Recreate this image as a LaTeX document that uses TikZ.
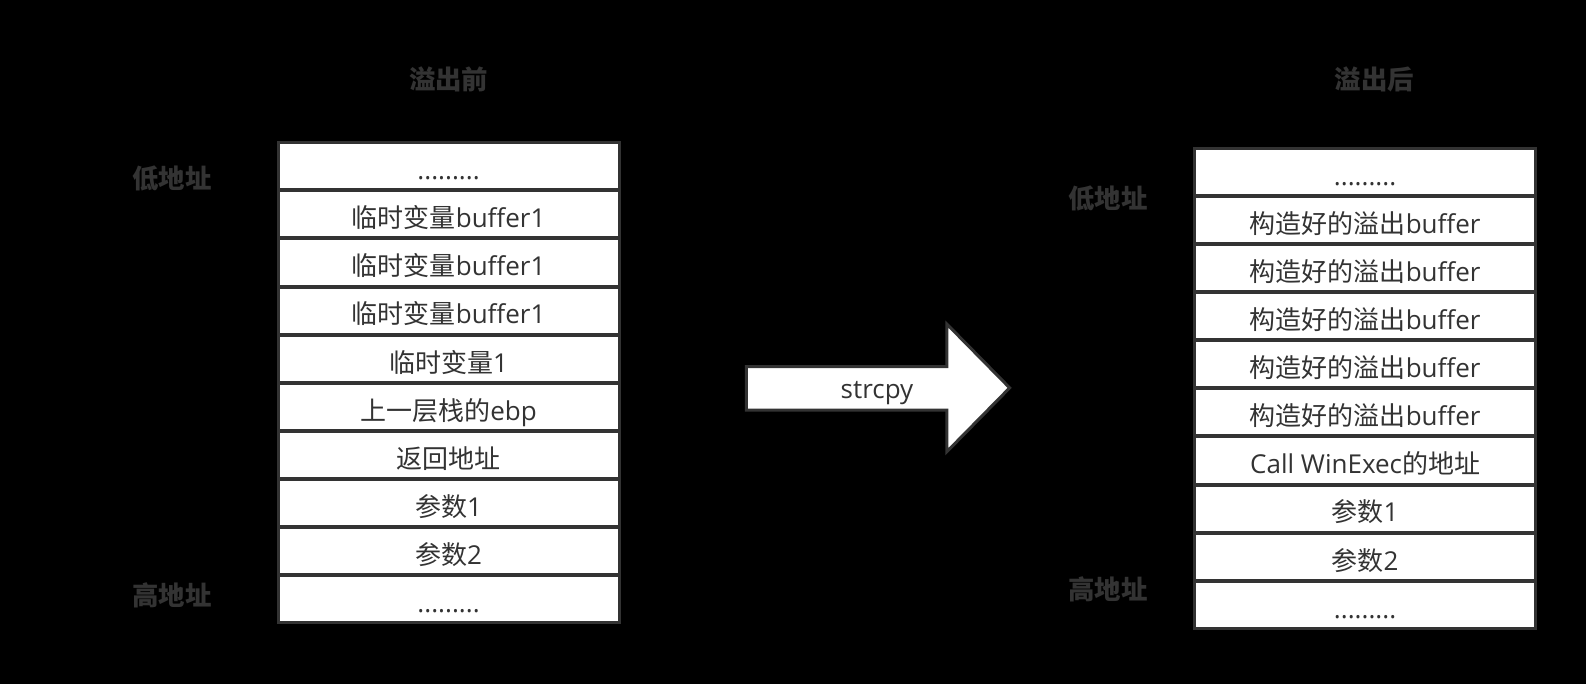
\documentclass[tikz,border=0pt]{standalone}
\usepackage{fontspec}
\setmainfont{Open Sans}
\newfontfamily\cjk{Noto Sans CJK SC}
\usepackage{xcolor}
\usepackage{tikz}
\usetikzlibrary{positioning}
\definecolor{edge}{HTML}{333333}
\tikzstyle{cell} = [rectangle, draw=edge, fill=white, line width=1.5pt, outer sep=0pt, minimum width=170.4pt, minimum height=23.55pt, inner sep=0pt, text height=16pt, text depth=2.7pt, text=edge, font=\fontsize{13pt}{15pt}\selectfont]
\tikzstyle{title} = [text=edge, font=\fontsize{13.2pt}{15pt}\selectfont\cjk\bfseries]
\tikzstyle{bigarrow} = [draw=edge, fill=white, line width=1.5pt, line join=miter]

\begin{document}
\begin{tikzpicture}[x=0.50635pt, y=-0.50635pt, node distance=0.5pt]

  % Background
  \fill[black] (0pt,0pt) rectangle (793pt,-342pt);
  \useasboundingbox (0pt,0pt) rectangle (793pt,-342pt);

  % Titles
  \node (before) [title] at (443,78) {溢出前};
  \node (after) [title] at (1357,78) {溢出后};

  % Stack before overflow
  \node (a0) [cell] at (443,164.25) {.........};
  \node (a1) [cell, below=of a0] {{\cjk 临时变量}buffer1};
  \node (a2) [cell, below=of a1] {{\cjk 临时变量}buffer1};
  \node (a3) [cell, below=of a2] {{\cjk 临时变量}buffer1};
  \node (a4) [cell, below=of a3] {{\cjk 临时变量}1};
  \node (a5) [cell, below=of a4] {{\cjk 上一层栈的}ebp};
  \node (a6) [cell, below=of a5] {\cjk 返回地址};
  \node (a7) [cell, below=of a6] {{\cjk 参数}1};
  \node (a8) [cell, below=of a7] {{\cjk 参数}2};
  \node (a9) [cell, below=of a8] {.........};

  % Stack after overflow
  \node (b0) [cell] at (1348,169.75) {.........};
  \node (b1) [cell, below=of b0] {{\cjk 构造好的溢出}buffer};
  \node (b2) [cell, below=of b1] {{\cjk 构造好的溢出}buffer};
  \node (b3) [cell, below=of b2] {{\cjk 构造好的溢出}buffer};
  \node (b4) [cell, below=of b3] {{\cjk 构造好的溢出}buffer};
  \node (b5) [cell, below=of b4] {{\cjk 构造好的溢出}buffer};
  \node (b6) [cell, below=of b5] {Call WinExec{\cjk 的地址}};
  \node (b7) [cell, below=of b6] {{\cjk 参数}1};
  \node (b8) [cell, below=of b7] {{\cjk 参数}2};
  \node (b9) [cell, below=of b8] {.........};

  % Address labels
  \node (lowa) [title] at (170,176) {低地址};
  \node (higha) [title] at (170,588) {高地址};
  \node (lowb) [title] at (1094,196) {低地址};
  \node (highb) [title] at (1094,582) {高地址};

  % Arrow
  \draw[bigarrow] (737,362) -- (935,362) -- (935,320) -- (997,383) -- (935,446) -- (935,405) -- (737,405) -- cycle;
  \node (copy) [text=edge, font=\fontsize{13pt}{15pt}\selectfont] at (866,388) {strcpy};

\end{tikzpicture}
\end{document}
